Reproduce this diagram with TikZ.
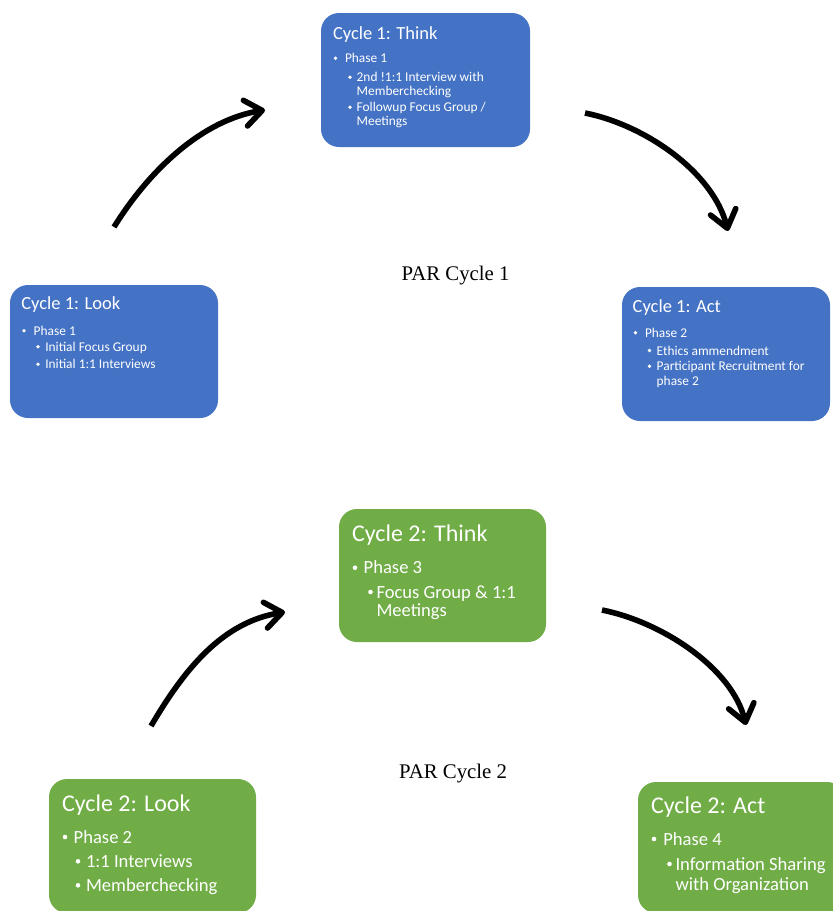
\documentclass[tikz,border=0pt]{standalone}
\usepackage{fontspec}
\setmainfont{Carlito}
\newfontfamily\labelfont{Liberation Serif}
\usetikzlibrary{arrows.meta}
\definecolor{cycblue}{HTML}{4472C4}
\definecolor{cycgreen}{HTML}{70AD47}
\begin{document}
\begin{tikzpicture}[x=1pt,y=-1pt,
  phasebox/.style={draw=none,rounded corners=18pt,inner sep=0pt,outer sep=0pt},
  bluebox/.style={phasebox,fill=cycblue},
  greenbox/.style={phasebox,fill=cycgreen},
  txt/.style={anchor=base west,inner sep=0pt,outer sep=0pt,text=white},
  btitle/.style={txt,font=\fontsize{18.5}{22}\selectfont},
  bitem/.style={txt,font=\fontsize{13.4}{16}\selectfont},
  gtitle/.style={txt,font=\fontsize{24}{28}\selectfont},
  gitem/.style={txt,font=\fontsize{18.6}{22}\selectfont},
  cyclabel/.style={anchor=base west,inner sep=0pt,font=\labelfont\fontsize{20.8}{24}\selectfont},
  flow/.style={line width=5.6pt,-{Straight Barb[length=17pt,width=26pt,round]}}
]
\useasboundingbox (0,0) rectangle (833,911);
\clip (0,0) rectangle (833,911);

% ---------- Cycle 1 ----------
\fill[bluebox] (321,13) rectangle (530,147);
\fill[bluebox] (10,285) rectangle (218,418);
\fill[bluebox] (622,287) rectangle (830,421);

% Think
\node[btitle] (t1title) at (333,39.3) {Cycle 1: Think};
\fill[white] (335.5,58.3) circle (1.9);
\node[bitem] (t1a) at (345,62.7) {Phase 1};
\fill[white] (350,77.2) circle (1.9);
\node[bitem] (t1b) at (356.7,81.7) {2nd !1:1 Interview with};
\node[bitem] (t1c) at (356.7,95.3) {Memberchecking};
\fill[white] (350,107.2) circle (1.9);
\node[bitem] (t1d) at (356.7,111.7) {Followup Focus Group /};
\node[bitem] (t1e) at (356.7,125.5) {Meetings};

% Look
\node[btitle] (l1title) at (21.3,309.7) {Cycle 1: Look};
\fill[white] (24,330.8) circle (1.9);
\node[bitem] (l1a) at (33.7,335.3) {Phase 1};
\fill[white] (38,346.8) circle (1.9);
\node[bitem] (l1b) at (45.3,351.3) {Initial Focus Group};
\fill[white] (38,364.2) circle (1.9);
\node[bitem] (l1c) at (45.3,368.7) {Initial 1:1 Interviews};

% Act
\node[btitle] (a1title) at (632.7,312.7) {Cycle 1: Act};
\fill[white] (635.5,332.8) circle (1.9);
\node[bitem] (a1a) at (645,337.3) {Phase 2};
\fill[white] (649.5,350.5) circle (1.9);
\node[bitem] (a1b) at (656.7,355) {Ethics ammendment};
\fill[white] (649.5,366.2) circle (1.9);
\node[bitem] (a1c) at (656.7,370.7) {Participant Recruitment for};
\node[bitem] (a1d) at (656.7,385.3) {phase 2};

\node[cyclabel] (par1) at (401.5,280) {PAR Cycle 1};

\coordinate (f1s) at (114,227);
\coordinate (f1e) at (265,110);
\coordinate (f2s) at (585,113);
\coordinate (f2e) at (728,231);
\draw[flow] (f1s) .. controls (150,169) and (203,120) .. (f1e);
\draw[flow] (f2s) .. controls (645,125) and (713,172) .. (f2e);

% ---------- Cycle 2 ----------
\fill[greenbox] (339,509) rectangle (546,642);
\fill[greenbox] (49,779) rectangle (256,913);
\fill[greenbox] (638,782) rectangle (845,913);

% Think
\node[gtitle] (t2title) at (352,541.3) {Cycle 2: Think};
\fill[white] (355,567.7) circle (2.3);
\node[gitem] (t2a) at (363.7,573.7) {Phase 3};
\fill[white] (370.5,592) circle (2.3);
\node[gitem] (t2b) at (376.5,598) {Focus Group \& 1:1};
\node[gitem] (t2c) at (376.5,616.5) {Meetings};

% Look
\node[gtitle] (l2title) at (62,811.3) {Cycle 2: Look};
\fill[white] (65,837) circle (2.3);
\node[gitem] (l2a) at (73.7,843) {Phase 2};
\fill[white] (78,861.3) circle (2.3);
\node[gitem] (l2b) at (86,867.3) {1:1 Interviews};
\fill[white] (78,885.3) circle (2.3);
\node[gitem] (l2c) at (86,891.3) {Memberchecking};

% Act
\node[gtitle] (a2title) at (651,813.3) {Cycle 2: Act};
\fill[white] (654,839) circle (2.3);
\node[gitem] (a2a) at (663.3,845) {Phase 4};
\fill[white] (669.5,864) circle (2.3);
\node[gitem] (a2b) at (675.5,870) {Information Sharing};
\node[gitem] (a2c) at (675.5,890) {with Organization};

\node[cyclabel] (par2) at (399,778) {PAR Cycle 2};

\coordinate (f3s) at (151,726);
\coordinate (f3e) at (285,612);
\coordinate (f4s) at (602,610);
\coordinate (f4e) at (746,725);
\draw[flow] (f3s) .. controls (185,668) and (223,622) .. (f3e);
\draw[flow] (f4s) .. controls (662,622) and (732,668) .. (f4e);
\end{tikzpicture}
\end{document}
